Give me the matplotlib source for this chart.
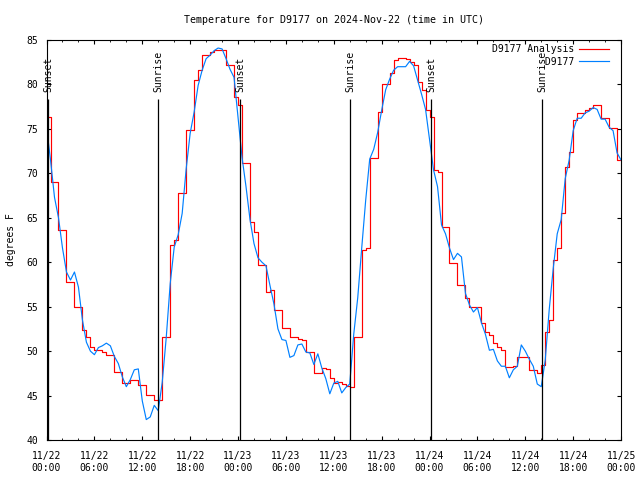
import matplotlib
matplotlib.use('Agg')
import matplotlib.pyplot as plt
import matplotlib.dates as mdates
import pandas as pd

plt.rcParams['font.family'] = 'DejaVu Sans Mono'
plt.rcParams['font.size'] = 7

# half-hourly samples, 11/22 00:00 UTC .. 11/25 00:00 UTC
times = pd.date_range('2024-11-22 00:00', periods=145, freq='30min')

# D9177 observations (deg F)
obs = [
    75.2, 71.5, 67.3, 65.0, 61.6, 58.9, 58.0, 58.9, 57.2, 53.5,
    51.0, 50.0, 49.6, 50.4, 50.6, 50.9, 50.6, 49.4, 48.6, 47.1,
    46.0, 46.8, 47.9, 48.0, 44.4, 42.3, 42.6, 43.9, 43.3, 46.5,
    51.5, 57.6, 61.7, 63.1, 65.5, 70.5, 74.5, 76.9, 79.9, 81.6,
    82.9, 83.3, 83.8, 84.1, 84.0, 82.9, 81.7, 80.8, 76.3, 71.8,
    68.5, 64.8, 62.1, 60.5, 60.0, 59.6, 57.4, 55.3, 52.5, 51.3,
    51.2, 49.3, 49.5, 50.7, 50.8, 49.9, 49.8, 48.5, 49.7, 48.1,
    46.9, 45.2, 46.4, 46.6, 45.3, 45.9, 46.3, 51.9, 56.0, 61.6,
    67.0, 71.6, 72.7, 74.6, 77.1, 79.4, 80.6, 81.6, 82.0, 82.0,
    82.0, 82.6, 82.1, 80.5, 78.9, 77.2, 73.8, 70.4, 68.5, 64.2,
    63.2, 61.6, 60.3, 61.0, 60.6, 56.5, 55.2, 54.4, 54.9, 53.2,
    51.9, 50.1, 50.2, 48.9, 48.3, 48.3, 47.0, 47.9, 48.3, 50.7,
    50.0, 49.1, 48.3, 46.3, 46.0, 49.0, 54.7, 59.3, 63.2, 64.8,
    69.4, 71.5, 74.8, 76.2, 76.2, 76.8, 77.0, 77.4, 77.2, 76.1,
    76.1, 75.2, 74.8, 72.3, 71.5]

# D9177 analysis (deg F)
analysis = [
    76.3, 69.0, 69.0, 63.6, 63.6, 57.8, 57.8, 55.0, 55.0, 52.4,
    51.6, 50.5, 50.1, 50.1, 49.9, 49.6, 49.6, 47.7, 47.7, 46.4,
    46.4, 46.8, 46.8, 46.2, 46.2, 45.1, 45.1, 44.5, 44.5, 51.6,
    51.6, 61.9, 62.5, 67.8, 67.8, 74.9, 74.9, 80.5, 81.6, 83.3,
    83.3, 83.6, 83.9, 83.9, 83.9, 82.2, 82.2, 78.6, 77.7, 71.2,
    71.2, 64.5, 63.4, 59.7, 59.7, 56.7, 56.9, 54.6, 54.6, 52.6,
    52.6, 51.6, 51.6, 51.4, 51.3, 49.9, 49.9, 47.5, 47.5, 48.1,
    48.0, 47.0, 46.4, 46.5, 46.3, 46.1, 46.0, 51.6, 51.6, 61.4,
    61.6, 71.7, 71.7, 76.9, 80.1, 80.1, 81.3, 82.8, 83.0, 83.0,
    82.9, 82.5, 82.2, 80.3, 79.4, 77.1, 76.3, 70.4, 70.2, 64.0,
    64.0, 59.9, 59.9, 57.4, 57.4, 56.0, 55.0, 55.0, 55.0, 53.2,
    52.1, 51.8, 50.9, 50.5, 50.1, 48.2, 48.2, 48.3, 49.3, 49.3,
    49.3, 47.9, 47.9, 47.5, 48.4, 52.1, 53.5, 60.2, 61.6, 65.5,
    70.7, 72.4, 76.0, 76.8, 76.8, 77.1, 77.4, 77.7, 77.7, 76.2,
    76.2, 75.1, 75.1, 71.5, 71.5]

sunset = pd.to_datetime(['2024-11-22 00:12', '2024-11-23 00:18', '2024-11-24 00:12'])
sunrise = pd.to_datetime(['2024-11-22 14:00', '2024-11-23 14:04', '2024-11-24 14:06'])

fig = plt.figure(figsize=(6.4, 4.8), dpi=100)
ax = fig.add_axes([0.0727, 0.0833, 0.8977, 0.8333])

ax.plot(times, analysis, color='#ff0000', lw=0.85, drawstyle='steps-post', label='D9177 Analysis')
ax.plot(times, obs, color='#0080ff', lw=0.85, label='         D9177')

for t in sunset:
    ax.vlines(t, 40, 78.4, color='black', lw=0.9)
    ax.text(t, 79.2, 'Sunset', rotation=90, ha='center', va='bottom')
for t in sunrise:
    ax.vlines(t, 40, 78.4, color='black', lw=0.9)
    ax.text(t, 79.2, 'Sunrise', rotation=90, ha='center', va='bottom')

ax.set_xlim(pd.Timestamp('2024-11-22'), pd.Timestamp('2024-11-25'))
ax.set_ylim(40, 85)
ax.xaxis.set_major_locator(mdates.HourLocator(byhour=[0, 6, 12, 18]))
ax.xaxis.set_minor_locator(mdates.HourLocator(byhour=range(0, 24, 2)))
ax.xaxis.set_major_formatter(mdates.DateFormatter('%m/%d\n%H:%M'))
ax.tick_params(which='both', direction='in', top=True, right=True)
ax.tick_params(which='major', length=3, pad=6)
ax.tick_params(which='minor', length=1.5)
ax.tick_params(axis='x', which='major', pad=8)

ax.set_ylabel('degrees F')
ax.yaxis.set_label_coords(-0.054, 0.5)
ax.set_title('Temperature for D9177 on 2024-Nov-22 (time in UTC)', fontsize=7.2, pad=12)

ax.legend(loc='upper right', frameon=False, markerfirst=False, handlelength=3,
          handletextpad=0.5, labelspacing=0.3, borderaxespad=0, borderpad=0.4,
          bbox_to_anchor=(0.985, 1.0))

fig.savefig('out.png', dpi=100)
